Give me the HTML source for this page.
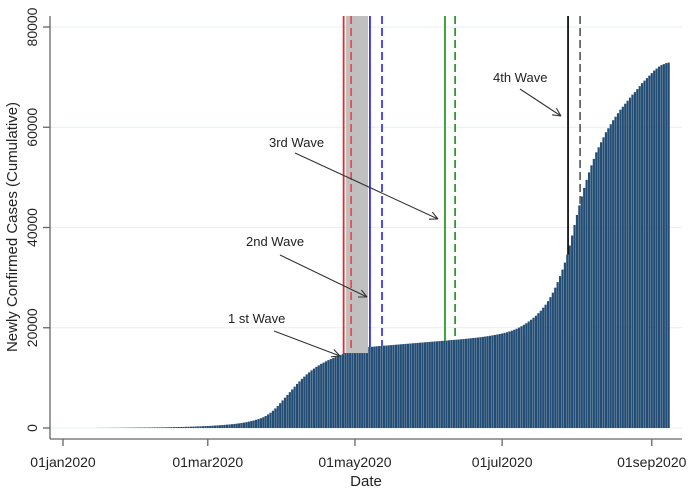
<!DOCTYPE html>
<html><head><meta charset="utf-8"><style>
body{margin:0;background:#fff;}
svg{display:block;font-family:"Liberation Sans",Arial,sans-serif;}
</style></head><body>
<svg id="chart" width="696" height="489" viewBox="0 0 696 489" xmlns="http://www.w3.org/2000/svg">
<rect width="696" height="489" fill="#fff"/>
<g id="grid"></g>
<g id="bars"></g>
<g id="vlines"></g>
<g id="axes"></g>
<g id="notes"></g>
<text transform="translate(17,227) rotate(-90)" text-anchor="middle" font-size="15" fill="#222">Newly Confirmed Cases (Cumulative)</text>
<text x="366" y="486" text-anchor="middle" font-size="15" fill="#222">Date</text>
</svg>
<script>
const startDay = 14;
const values = [10,12,15,18,20,24,28,30,35,40,45,50,55,60,65,70,
75,80,85,90,95,100,105,110,115,120,125,130,140,150,160,170,180,190,200,210,
220,235,250,265,280,300,320,340,360,380,400,430,460,490,520,550,590,630,670,710,
760,810,870,930,1000,1080,1170,1270,1380,1500,1630,1780,1950,2150,2400,
2700,3050,3450,3900,4400,4950,5500,6050,6600,7150,7700,8250,8800,9300,9800,
10250,10700,11100,11500,11850,12200,12500,12800,13050,13300,13550,13750,13950,14150,14350,
14550,14750,14950,15150,15350,15500,15650,15750,15850,15950,16050,16100,16150,16200,16250,
16300,16340,16380,16420,16460,16500,16540,16580,16620,16660,16700,16740,16780,16820,16860,16900,16940,16980,17020,17060,17100,17140,17180,17220,17260,17300,17340,17380,17420,17460,
17500,17540,17580,17620,17660,17700,17750,17800,17850,17900,17950,18000,18060,18120,18180,18250,18320,18400,18480,18560,
18650,18750,18860,18980,19100,19250,19400,19600,19800,20050,20300,20600,20900,21250,21600,
22000,22400,22900,23400,24000,24600,25300,26100,27000,28000,29100,30300,
31600,33000,34600,36400,38400,40500,42500,44400,46200,47900,49500,51000,52400,53700,55000,
56000,57000,58000,59000,59800,60600,61400,62100,62800,63500,64100,64700,65300,65900,66500,
67000,67600,68200,68800,69300,69800,70300,70800,71300,71700,72100,72400,72600,72800,72900];
const yTicks = [0,20000,40000,60000,80000];
const xTickDays = [0,60,121,182,244];
const xTickLabels = ["01jan2020","01mar2020","01may2020","01jul2020","01sep2020"];
const waveLineDays = [116.3,119.4,127.2,132.2,158.3,162.5,209.3,214.3];
const waveLineColors = ["#e8262b","#f04a50","#2b2bff","#3a3aff","#2e9a2e","#2e9a2e","#111","#666"];
const waveLineDashed = [false,true,false,true,false,true,false,true];
const bandDays = [117.3,126.4];

const NS="http://www.w3.org/2000/svg";
const X = d => 63 + d*2.413;
const Y = v => 428 - v*(401/80000);
function mk(tag, parent, attrs){const e=document.createElementNS(NS,tag);for(const k in attrs)e.setAttribute(k,attrs[k]);parent.appendChild(e);return e;}
const grid=document.getElementById('grid'),bars=document.getElementById('bars'),vl=document.getElementById('vlines'),ax=document.getElementById('axes'),notes=document.getElementById('notes');
function valAt(d){const i=Math.round(d)-startDay;return values[Math.max(0,Math.min(values.length-1,i))];}

yTicks.forEach(v=>{
  const l=mk('line',grid,{x1:50,x2:682,y1:Y(v),y2:Y(v),stroke:'#e6eff0','stroke-width':1});
  
  
});
values.forEach((v,i)=>{
  const x=X(startDay+i);
  const r=mk('rect',bars,{x:x-1.1,y:Y(v),width:2.2,height:428-Y(v),fill:'#234d74'});
  
  
});
const band=mk('rect',vl,{x:X(bandDays[0]),y:16,width:X(bandDays[1])-X(bandDays[0]),height:Y(valAt(bandDays[0]))-16,fill:'#c0c0c0'});


waveLineDays.forEach((d,i)=>{
  const a={x1:X(d),x2:X(d),y1:16,y2:Y(valAt(d)),stroke:waveLineColors[i],'stroke-width':1.8};
  if(waveLineDashed[i])a['stroke-dasharray']='8,4';
  const l=mk('line',vl,a);
  
  
});
const ya=mk('line',ax,{x1:50,x2:50,y1:16,y2:439,stroke:'#666','stroke-width':1.3});


const xa=mk('line',ax,{x1:50,x2:682,y1:439,y2:439,stroke:'#666','stroke-width':1.3});


yTicks.forEach(v=>{
  mk('line',ax,{x1:43,x2:50,y1:Y(v),y2:Y(v),stroke:'#666','stroke-width':1.3});
  const t=mk('text',ax,{transform:`translate(37,${Y(v)}) rotate(-90)`,'text-anchor':'middle','font-size':14,fill:'#222'});
  t.textContent=v;
  
  
});
xTickDays.forEach((d,i)=>{
  mk('line',ax,{x1:X(d),x2:X(d),y1:439,y2:446,stroke:'#666','stroke-width':1.3});
  const t=mk('text',ax,{x:X(d),y:467,'text-anchor':'middle','font-size':14,fill:'#222'});
  t.textContent=xTickLabels[i];
  
  
});
const ann=[["1 st Wave",228,323,274,331,340,356],["2nd Wave",246,246,280,255,367,297],["3rd Wave",269,147,295,153,438,219],["4th Wave",493,82,520,89,561,116]];
ann.forEach(a=>{
  const t=mk('text',notes,{x:a[1],y:a[2],'font-size':13,fill:'#222'});
  t.textContent=a[0];
  
  
  mk('line',notes,{x1:a[3],y1:a[4],x2:a[5],y2:a[6],stroke:'#333','stroke-width':1.1});
  const ang=Math.atan2(a[6]-a[4],a[5]-a[3]);
  const L=9;
  [0.45,-0.45].forEach(o=>{
    mk('line',notes,{x1:a[5],y1:a[6],x2:a[5]-L*Math.cos(ang+o),y2:a[6]-L*Math.sin(ang+o),stroke:'#333','stroke-width':1.1});
  });
});
</script>
</body></html>
